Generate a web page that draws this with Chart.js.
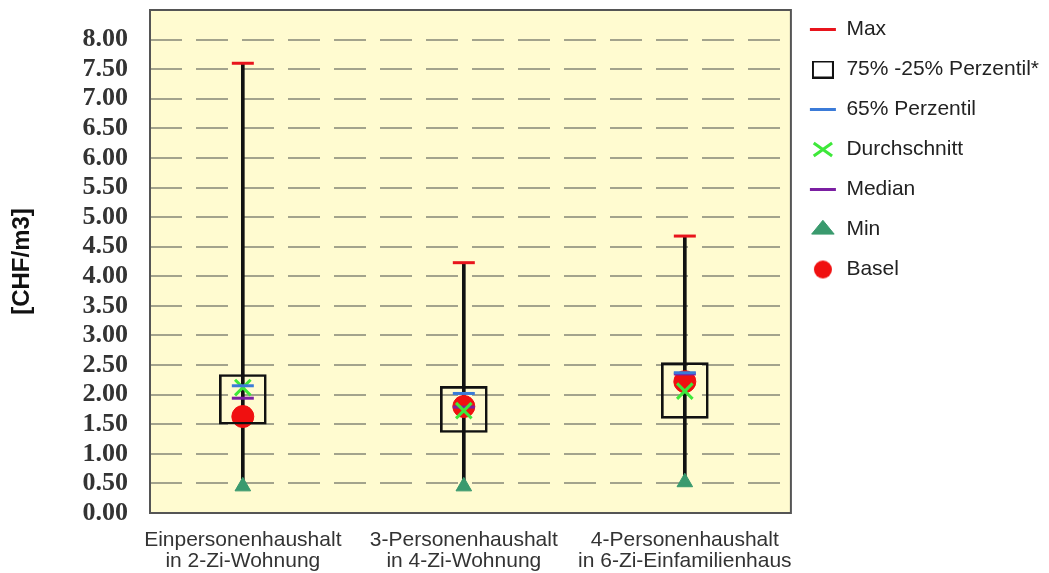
<!DOCTYPE html>
<html>
<head>
<meta charset="utf-8">
<script src="https://cdn.jsdelivr.net/npm/chart.js@4.4.0/dist/chart.umd.min.js"></script>
<style>
  html, body { margin: 0; padding: 0; background: #fff; }
</style>
</head>
<body>
<canvas id="box-chart" width="1049" height="573"></canvas>
<script>
// categories (two-line tick labels)
const categories = [
    ['Einpersonenhaushalt', 'in 2-Zi-Wohnung'],
    ['3-Personenhaushalt', 'in 4-Zi-Wohnung'],
    ['4-Personenhaushalt', 'in 6-Zi-Einfamilienhaus']
];

// values in CHF/m3, one per category
const maxVals = [7.60, 4.23, 4.68];
const p75Vals = [2.34, 2.14, 2.54];
const p25Vals = [1.50, 1.36, 1.60];
const p65Vals = [2.15, 2.02, 2.37];
const meanVals = [2.12, 1.73, 2.06];
const medianVals = [1.94, 1.79, 2.35];
const minVals = [0.45, 0.45, 0.52];
const baselVals = [1.63, 1.80, 2.22];

const yTicks = [0, 0.5, 1, 1.5, 2, 2.5, 3, 3.5, 4, 4.5, 5, 5.5, 6, 6.5, 7, 7.5, 8];

function points(vals) {
    return vals.map((v, i) => ({ x: i + 1, y: v }));
}

function ranges(lo, hi) {
    return lo.map((v, i) => ({ x: i + 1, y: [v, hi[i]] }));
}

// small canvases used as legend symbols
function makeMarker(w, h, draw) {
    const c = document.createElement('canvas');
    c.width = w;
    c.height = h;
    draw(c.getContext('2d'));
    return c;
}

const legendCircle = makeMarker(20, 20, function(ctx) {
    ctx.fillStyle = '#f01010';
    ctx.beginPath();
    ctx.arc(10, 10, 9, 0, Math.PI * 2);
    ctx.fill();
});

const legendRect = makeMarker(22, 18, function(ctx) {
    ctx.strokeStyle = '#111';
    ctx.lineWidth = 2;
    ctx.strokeRect(1, 1, 20, 16);
});

// yellow plot background + frame
const plotFrame = {
    id: 'plotFrame',
    beforeDraw(chart) {
        const a = chart.chartArea;
        const ctx = chart.ctx;
        ctx.save();
        ctx.fillStyle = '#fffbd0';
        ctx.fillRect(a.left, a.top, a.right - a.left, a.bottom - a.top);
        ctx.restore();
    },
    afterDraw(chart) {
        const a = chart.chartArea;
        const ctx = chart.ctx;
        ctx.save();
        ctx.strokeStyle = '#555';
        ctx.lineWidth = 2;
        ctx.strokeRect(a.left, a.top, a.right - a.left, a.bottom - a.top);
        ctx.restore();
    }
};

const ctx = document.getElementById('box-chart').getContext('2d');

const chart = new Chart(ctx, {
    type: 'bar',
    data: {
        datasets: [
            {
                type: 'scatter', label: 'Max', data: points(maxVals),
                pointStyle: 'line', pointRadius: 11, pointBorderWidth: 3,
                pointBorderColor: '#e8141c', pointBackgroundColor: '#e8141c'
            },
            {
                type: 'bar', label: '75% -25% Perzentil*', data: ranges(p25Vals, p75Vals),
                backgroundColor: 'rgba(0,0,0,0)', borderColor: '#111', borderWidth: 2,
                borderSkipped: false, barThickness: 47, grouped: false, pointStyle: 'rect'
            },
            {
                type: 'scatter', label: '65% Perzentil', data: points(p65Vals),
                pointStyle: 'line', pointRadius: 11, pointBorderWidth: 3,
                pointBorderColor: '#3b7bd8', pointBackgroundColor: '#3b7bd8'
            },
            {
                type: 'scatter', label: 'Durchschnitt', data: points(meanVals),
                pointStyle: 'crossRot', pointRadius: 11, pointBorderWidth: 3,
                pointBorderColor: '#3ee83a', pointBackgroundColor: '#3ee83a'
            },
            {
                type: 'scatter', label: 'Median', data: points(medianVals),
                pointStyle: 'line', pointRadius: 11, pointBorderWidth: 3,
                pointBorderColor: '#7b1fa2', pointBackgroundColor: '#7b1fa2'
            },
            {
                type: 'scatter', label: 'Min', data: points(minVals),
                pointStyle: 'triangle', pointRadius: 9, pointBorderWidth: 1,
                pointBorderColor: '#3a9a6e', pointBackgroundColor: '#3a9a6e'
            },
            {
                type: 'scatter', label: 'Basel', data: points(baselVals),
                pointStyle: 'circle', pointRadius: 11, pointBorderWidth: 1,
                pointBorderColor: '#f01010', pointBackgroundColor: '#f01010'
            },
            {
                // whisker from min to max, drawn underneath
                type: 'bar', label: '', data: ranges(minVals, maxVals),
                backgroundColor: '#111', borderWidth: 0,
                barThickness: 3, grouped: false
            }
        ]
    },
    options: {
        responsive: false,
        animation: false,
        events: [],
        layout: { padding: 0, autoPadding: false },
        plugins: {
            tooltip: { enabled: false },
            legend: {
                position: 'right',
                align: 'start',
                labels: {
                    usePointStyle: true,
                    pointStyleWidth: 26,
                    boxHeight: 13,
                    padding: 19,
                    color: '#222',
                    font: { family: 'Liberation Sans', size: 21 },
                    filter: (item) => item.text !== '',
                    generateLabels: function(chart) {
                        const items = Chart.defaults.plugins.legend.labels.generateLabels(chart);
                        items.forEach(function(item) {
                            if (item.pointStyle === 'circle') item.pointStyle = legendCircle;
                            if (item.pointStyle === 'rect') item.pointStyle = legendRect;
                        });
                        return items;
                    }
                }
            }
        },
        scales: {
            x: {
                type: 'linear',
                offset: false,
                min: 0.58,
                max: 3.48,
                grid: { display: false, drawTicks: false },
                border: { display: false },
                afterBuildTicks: function(scale) {
                    scale.ticks = categories.map((c, i) => ({ value: i + 1 }));
                },
                afterFit: function(scale) { scale.height = 60; },
                ticks: {
                    autoSkip: false,
                    maxRotation: 0,
                    padding: 17,
                    color: '#333',
                    font: { family: 'Liberation Sans', size: 21, lineHeight: '21px' },
                    callback: (value) => categories[value - 1]
                }
            },
            y: {
                type: 'linear',
                min: 0,
                max: 8.5,
                afterBuildTicks: function(scale) {
                    scale.ticks = yTicks.map((v) => ({ value: v }));
                },
                afterFit: function(scale) { scale.width = 150; },
                grid: {
                    color: '#a3a38c',
                    lineWidth: 2,
                    drawTicks: true,
                    tickLength: 22,
                    tickColor: 'rgba(0,0,0,0)'
                },
                border: { display: false, dash: [32, 14] },
                ticks: {
                    padding: 0,
                    color: '#333',
                    font: { family: 'Liberation Serif', size: 26, weight: 'bold', lineHeight: '20px' },
                    callback: (value) => value.toFixed(2)
                },
                title: {
                    display: true,
                    text: '[CHF/m3]',
                    color: '#111',
                    padding: { top: 8, bottom: 0 },
                    font: { family: 'Liberation Sans', size: 24, weight: 'bold' }
                }
            }
        }
    },
    plugins: [plotFrame]
});
</script>
</body>
</html>
